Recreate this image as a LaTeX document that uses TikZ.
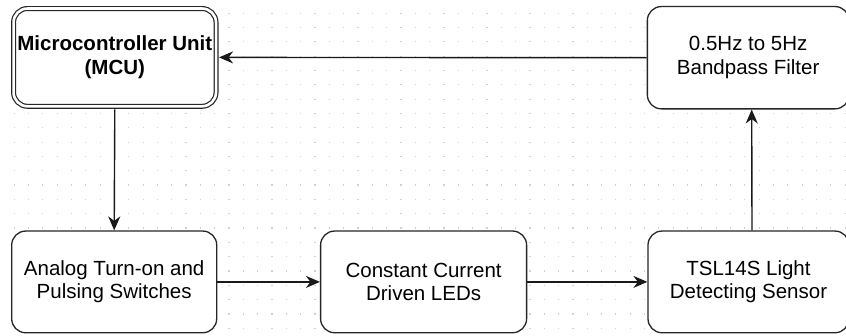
\documentclass[tikz,border=0pt]{standalone}
\usepackage{fontspec}
\setmainfont{Liberation Sans}
\usetikzlibrary{arrows.meta}
\begin{document}
\begin{tikzpicture}[x=1pt,y=-1pt,
  block/.style={draw=black!85, line width=1.3pt, rounded corners=14pt, fill=white,
    align=center, inner sep=0pt, font=\fontsize{20.5}{23.5}\selectfont},
  mcublock/.style={block, double=white, double distance=2.6pt, line width=1.2pt,
    outer sep=3pt, font=\bfseries\fontsize{20.5}{24}\selectfont},
  arr/.style={draw=black!90, line width=1.4pt, -{Stealth[length=14pt,width=12pt,inset=4.5pt]}},
  griddot/.style={fill=black!18}
]
\useasboundingbox (0,0) rectangle (846,335);
\fill[white] (0,0) rectangle (846,335);
% dotted grid
\foreach \i in {0,...,59} {
  \foreach \j in {0,...,23} {
    \fill[griddot] ({-0.8+14.33*\i},{-1.8+14.33*\j}) rectangle +(1.1,1.1);
  }
}
% blocks
\node[mcublock, minimum width=202.5pt, minimum height=97.8pt] (mcu) at (114.8,57.4)
  {Microcontroller Unit\\(MCU)};
\node[block, minimum width=201.7pt, minimum height=102.3pt] (filter) at (748.2,57.7)
  {0.5Hz to 5Hz\\Bandpass Filter};
\node[block, minimum width=205pt, minimum height=101.7pt] (analog) at (114.2,281.9)
  {Analog Turn-on and\\Pulsing Switches};
\node[block, minimum width=206pt, minimum height=101.7pt] (leds) at (423.6,281.9)
  {Constant Current\\Driven LEDs};
\node[block, minimum width=201pt, minimum height=101.7pt] (sensor) at (748.5,281.9)
  {TSL14S Light\\Detecting Sensor};
% connectors
\draw[arr] (filter.west) -- (mcu.east);
\draw[arr] (mcu.south) -- (analog.north);
\draw[arr] (analog.east) -- (leds.west);
\draw[arr] (leds.east) -- (sensor.west);
\draw[arr] ([xshift=3.5pt]sensor.north) -- ([xshift=3.5pt]filter.south);
\end{tikzpicture}
\end{document}
